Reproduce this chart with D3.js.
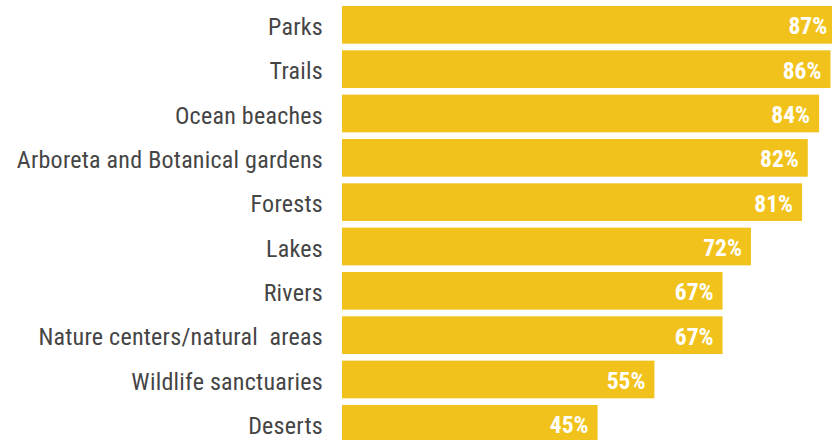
<!DOCTYPE html>
<html>
<head>
<meta charset="utf-8">
<script src="https://cdn.jsdelivr.net/npm/d3@7"></script>
<style>
  html, body { margin: 0; padding: 0; background: #fff; }
  svg { display: block; }
</style>
</head>
<body>
<svg id="chart" width="832" height="440"></svg>
<script>
const categories = [
  "Parks",
  "Trails",
  "Ocean beaches",
  "Arboreta and Botanical gardens",
  "Forests",
  "Lakes",
  "Rivers",
  "Nature centers/natural  areas",
  "Wildlife sanctuaries",
  "Deserts"
];
const values = [87, 86, 84, 82, 81, 72, 67, 67, 55, 45];
const valueLabels = ["87%", "86%", "84%", "82%", "81%", "72%", "67%", "67%", "55%", "45%"];

const svg = d3.select("#chart");
const x = d3.scaleLinear().domain([0, 100]).range([342, 910]);
const y = d3.scaleBand().domain(categories).range([6, 442.65]).paddingInner(0.15).paddingOuter(0);

const data = categories.map((c, i) => ({ c, v: values[i], l: valueLabels[i] }));

svg.selectAll("rect.bar").data(data).join("rect")
  .attr("class", "bar")
  .attr("x", x(0))
  .attr("y", d => y(d.c))
  .attr("width", d => x(d.v) - x(0))
  .attr("height", y.bandwidth())
  .attr("fill", "#F1C21B");

const labelFont = "'Liberation Sans Narrow', 'Roboto Condensed', 'Arial Narrow', Roboto, sans-serif";

svg.selectAll("text.cat").data(data).join("text")
  .attr("class", "cat")
  .attr("x", 323)
  .attr("y", d => y(d.c) + y.bandwidth() / 2)
  .attr("dy", "0.42em")
  .attr("text-anchor", "end")
  .attr("fill", "#454545")
  .style("font-family", labelFont)
  .style("font-size", "24px")
  .style("letter-spacing", "0.25px")
  .style("white-space", "pre")
  .text(d => d.c);

svg.selectAll("text.val").data(data).join("text")
  .attr("class", "val")
  .attr("x", d => x(d.v) - 9)
  .attr("y", d => y(d.c) + y.bandwidth() / 2)
  .attr("dy", "0.4em")
  .attr("text-anchor", "end")
  .attr("fill", "#ffffff")
  .style("font-family", labelFont)
  .style("font-weight", "bold")
  .style("font-size", "23.5px")
  .text(d => d.l);
</script>
</body>
</html>
